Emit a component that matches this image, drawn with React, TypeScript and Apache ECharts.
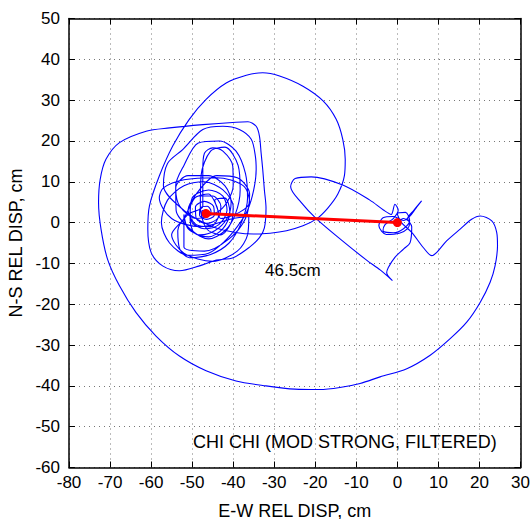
import React, { useEffect, useRef } from "react";
import * as echarts from "echarts";

type P = [number, number];

// axis ranges (cm)
const X_MIN = -80;
const X_MAX = 30;
const Y_MIN = -60;
const Y_MAX = 50;
const STEP = 10;

// Ground displacement trajectory (E-W, N-S), cm, traced in order
const startCluster: P[] = [
  [0, 0], [1.5, 1], [3, 0], [2.5, -1.5], [0.5, -2.6], [-2.7, -2.9], [-4.5, -0.8],
  [-3.5, 1.2], [-1, 1.5], [1.5, 0.5], [3, 1.5], [4.5, 3.5], [5.9, 5.3], [4, 3],
  [2.5, 1], [3.5, -1], [3.1, -4.9], [1.5, -6.5], [-0.6, -8.5], [-2.2, -11],
  [-2.6, -12.3], [-1.2, -14.2],
];

const smallLoop: P[] = [
  [-4.2, -11.6], [-7.5, -9.2], [-13.6, -4.3], [-19.7, 0.9], [-23.5, 5], [-26, 8.8],
  [-24.9, 10.8], [-21, 11.2], [-13.3, 9.2], [-6.7, 5.5], [-3.4, 3.1], [-1.5, 2],
  [-0.6, 4.5], [0.2, 3], [-1, 1], [-3, -0.5], [-3.5, -2], [-1, -2.5], [1.5, -1.5],
  [3, 0.5], [2, 2.5], [0, 2.2], [1, 0], [3.5, -2.4],
];

const eastSwing: P[] = [
  [6.3, -6.1], [8.4, -8.1], [9.6, -7.3], [12, -4.5], [15.3, -1.6], [18.1, 0.8],
  [20.2, 1.6], [23, 0.4], [24.2, -2.4], [24.4, -5.7], [23.8, -10.6], [22.6, -14.6],
  [20.2, -19.5],
];

const outerArc: P[] = [
  [16.9, -24.4], [12.8, -28.5], [8, -32.5], [2.3, -35.8], [-4.2, -37.8], [-9.1, -39.4],
  [-14, -40.4], [-19, -40.9], [-25, -40.8], [-32, -40], [-39.3, -38.8],
  [-46.6, -36.3], [-53.1, -32.7], [-58.8, -27.8], [-63.7, -22], [-67.7, -15.5],
  [-70.6, -9], [-72.2, -1.6], [-72.8, 4.9], [-72.4, 10.6], [-71, 15.5], [-67.7, 19.6],
  [-61.2, 22.4],
];

const cornerPath: P[] = [
  [-55.5, 23.2], [-47.4, 24], [-39.3, 24.6], [-36.4, 24.7], [-34.4, 23.6],
  [-33.6, 21.2], [-33.2, 17.1], [-32.8, 13], [-32.4, 8], [-32, 3.6], [-32.4, -1.3],
  [-33.6, -3.7],
];

const bigLoop: P[] = [
  [-36, -6], [-40, -8.6], [-44.1, -9.2], [-48.2, -10.6], [-53.1, -11.8], [-57.2, -10.6],
  [-60, -7.3], [-60.8, -1.6], [-60.4, 4.1], [-58, 11.4], [-54.7, 18.8], [-50.7, 25.3],
  [-46.6, 30.2], [-41.7, 34.2], [-36.8, 36.1], [-32.8, 36.7], [-28.7, 35.9], [-23, 33.4],
  [-18.1, 29.8], [-14.9, 25.3], [-13.3, 20.4], [-12.7, 15.5], [-12.9, 11.5], [-14.5, 7],
  [-17, 3.5], [-19.7, 0.9], [-23, -0.8], [-27, -2], [-31, -2.6], [-35, -2.8],
];

const blobLoops: P[] = [
  [-39, -2.5], [-45, -1], [-52, 3], [-57, 9], [-56, 14.5], [-52.3, 17.9], [-47.4, 22.8],
  [-42.5, 23.6], [-38.5, 22.8], [-35.6, 20.4], [-34.6, 16.3], [-34.4, 13], [-35, 8],
  [-36.5, 3], [-39, -1], [-42, -4.5],
  [-46, -7.5], [-51, -8], [-55.5, -5], [-57.5, 0], [-56, 5.5], [-52, 9], [-47, 10],
  [-42.5, 8], [-40, 4], [-40.5, 0],
  [-43, -3], [-46.5, -1.5], [-48, 4], [-47.8, 11.7], [-45.5, 17.5], [-42, 18.5],
  [-38.8, 14], [-38.3, 8], [-39.5, 2], [-42, -2],
  [-46, -4], [-50, -2], [-53.9, 3], [-54, 9], [-52, 14], [-48.5, 19.5], [-43.3, 20],
  [-39.3, 17.5], [-37, 12], [-36.5, 6], [-38, 0], [-41, -5], [-45.5, -7.8],
  [-50.7, -8.6], [-53, -6.5], [-53.5, -2],
  [-51, 2], [-47.4, 4], [-47.4, 13], [-47, 17], [-45, 18.3], [-42.5, 17.5],
  [-40.1, 13.8], [-40, 9], [-41.5, 5], [-44, 2.5],
  [-49, 1], [-53, 4], [-54, 8.5], [-51, 11.5], [-46, 11.5], [-42, 9], [-40.5, 5],
  [-41.5, 1], [-44.5, -2], [-48, -3], [-51, -1.5], [-52, 2],
  [-52, -6], [-47, -7], [-41, -4], [-37, 1], [-36, 7], [-39, 11], [-44, 11.5],
  [-49, 7], [-52, 1], [-55, -3], [-52, -7.5], [-45, -9.5], [-39, -7], [-36.5, -3],
  [-36.2, 1.5], [-40, 1], [-48, -1], [-55, 1], [-58, 6], [-57, 8.5], [-52, 10.5],
  [-44, 11], [-37.5, 9], [-36, 5], [-38.5, 2.5],
  [-43, 1], [-44, 4], [-46, 7], [-49.5, 6], [-51, 3], [-49, -0.5], [-45.5, -1],
  [-43.5, 2], [-44.5, 5.5], [-42, 6], [-40.8, 2.5], [-42.5, -1.5], [-46, -3.5],
  [-49.5, -2.5],
];

const finalSpiral: P[] = [
  [-50.5, 1], [-50, 6], [-46, 8], [-42.5, 6.5], [-41.5, 3], [-43.5, -0.5], [-47, -1.5],
  [-50, 0], [-50.5, 3.5], [-48.5, 6.5], [-45, 6.5], [-43, 4], [-43.8, 1], [-46.5, -0.2],
  [-49, 1], [-49.2, 3.8], [-47, 5.2], [-44.8, 4], [-44.6, 1.8], [-46.5, 0.8],
  [-48.2, 1.8], [-48, 3.6], [-46.3, 4], [-45.4, 2.8], [-46, 1.6], [-47.4, 1.6],
  [-47.6, 2.8], [-46.8, 3.1], [-46.4, 2.4], [-46.6, 2.2],
];

// permanent offset vector: final position -> origin
const finalPosition: P = [-46.6, 2.2];
const origin: P = [0, 0];
const offsetLabel = "46.5cm";
const titleLabel = "CHI CHI (MOD STRONG, FILTERED)";
const xName = "E-W REL DISP, cm";
const yName = "N-S REL DISP, cm";

const FONT = '"Liberation Sans", Arial, Helvetica, sans-serif';

export default function App() {
  const ref = useRef<HTMLDivElement>(null);

  useEffect(() => {
    if (!ref.current) return;
    const chart = echarts.init(ref.current, undefined, { renderer: "svg" });
    const trajectory = [
      ...startCluster,
      ...smallLoop,
      ...eastSwing,
      ...outerArc,
      ...cornerPath,
      ...bigLoop,
      ...blobLoops,
      ...finalSpiral,
    ];

    const baseAxis = {
      type: "value" as const,
      interval: STEP,
      axisLine: { show: true, onZero: false, lineStyle: { color: "#000", width: 1.5 } },
      axisTick: { show: true, inside: true, length: 6, lineStyle: { color: "#000", width: 1 } },
    };
    const gridLine = {
      show: true,
      lineStyle: { color: "#777", width: 1, type: [1, 4] as number[] },
    };

    chart.setOption({
      animation: false,
      textStyle: { fontFamily: FONT },
      grid: {
        left: 69,
        right: 11.5,
        top: 18.5,
        bottom: 51.5,
        containLabel: false,
        outerBoundsMode: "none",
      },
      xAxis: [
        {
          ...baseAxis,
          min: X_MIN,
          max: X_MAX,
          position: "bottom",
          name: xName,
          nameLocation: "middle",
          nameGap: 34,
          nameTextStyle: { fontSize: 18, color: "#000", fontFamily: FONT },
          axisLabel: { fontSize: 17, color: "#000", margin: 6, fontFamily: FONT },
          splitLine: gridLine,
        },
        {
          ...baseAxis,
          min: X_MIN,
          max: X_MAX,
          position: "top",
          axisLabel: { show: false },
          splitLine: { show: false },
        },
      ],
      yAxis: [
        {
          ...baseAxis,
          min: Y_MIN,
          max: Y_MAX,
          position: "left",
          name: yName,
          nameLocation: "middle",
          nameGap: 42,
          nameTextStyle: { fontSize: 18, color: "#000", fontFamily: FONT },
          axisLabel: { fontSize: 17, color: "#000", margin: 9, fontFamily: FONT },
          splitLine: gridLine,
        },
        {
          ...baseAxis,
          min: Y_MIN,
          max: Y_MAX,
          position: "right",
          axisLabel: { show: false },
          splitLine: { show: false },
        },
      ],
      series: [
        {
          type: "line",
          data: trajectory,
          xAxisIndex: 0,
          yAxisIndex: 0,
          symbol: "none",
          showSymbol: false,
          smooth: 0.3,
          lineStyle: { color: "#0000ff", width: 1.1 },
          z: 2,
        },
        {
          type: "line",
          data: [finalPosition, origin],
          xAxisIndex: 0,
          yAxisIndex: 0,
          symbol: "circle",
          symbolSize: 9,
          itemStyle: { color: "#ff0000" },
          lineStyle: { color: "#ff0000", width: 3 },
          z: 3,
        },
      ],
      graphic: [
        {
          type: "text",
          left: 265,
          top: 262,
          style: { text: offsetLabel, font: `17px ${FONT}`, fill: "#000" },
        },
        {
          type: "text",
          left: 193,
          top: 433,
          style: { text: titleLabel, font: `18px ${FONT}`, fill: "#000" },
        },
      ],
    });

    return () => chart.dispose();
  }, []);

  return (
    <div
      ref={ref}
      style={{ position: "fixed", left: 0, top: 0, width: 532, height: 519, background: "#fff" }}
    />
  );
}
